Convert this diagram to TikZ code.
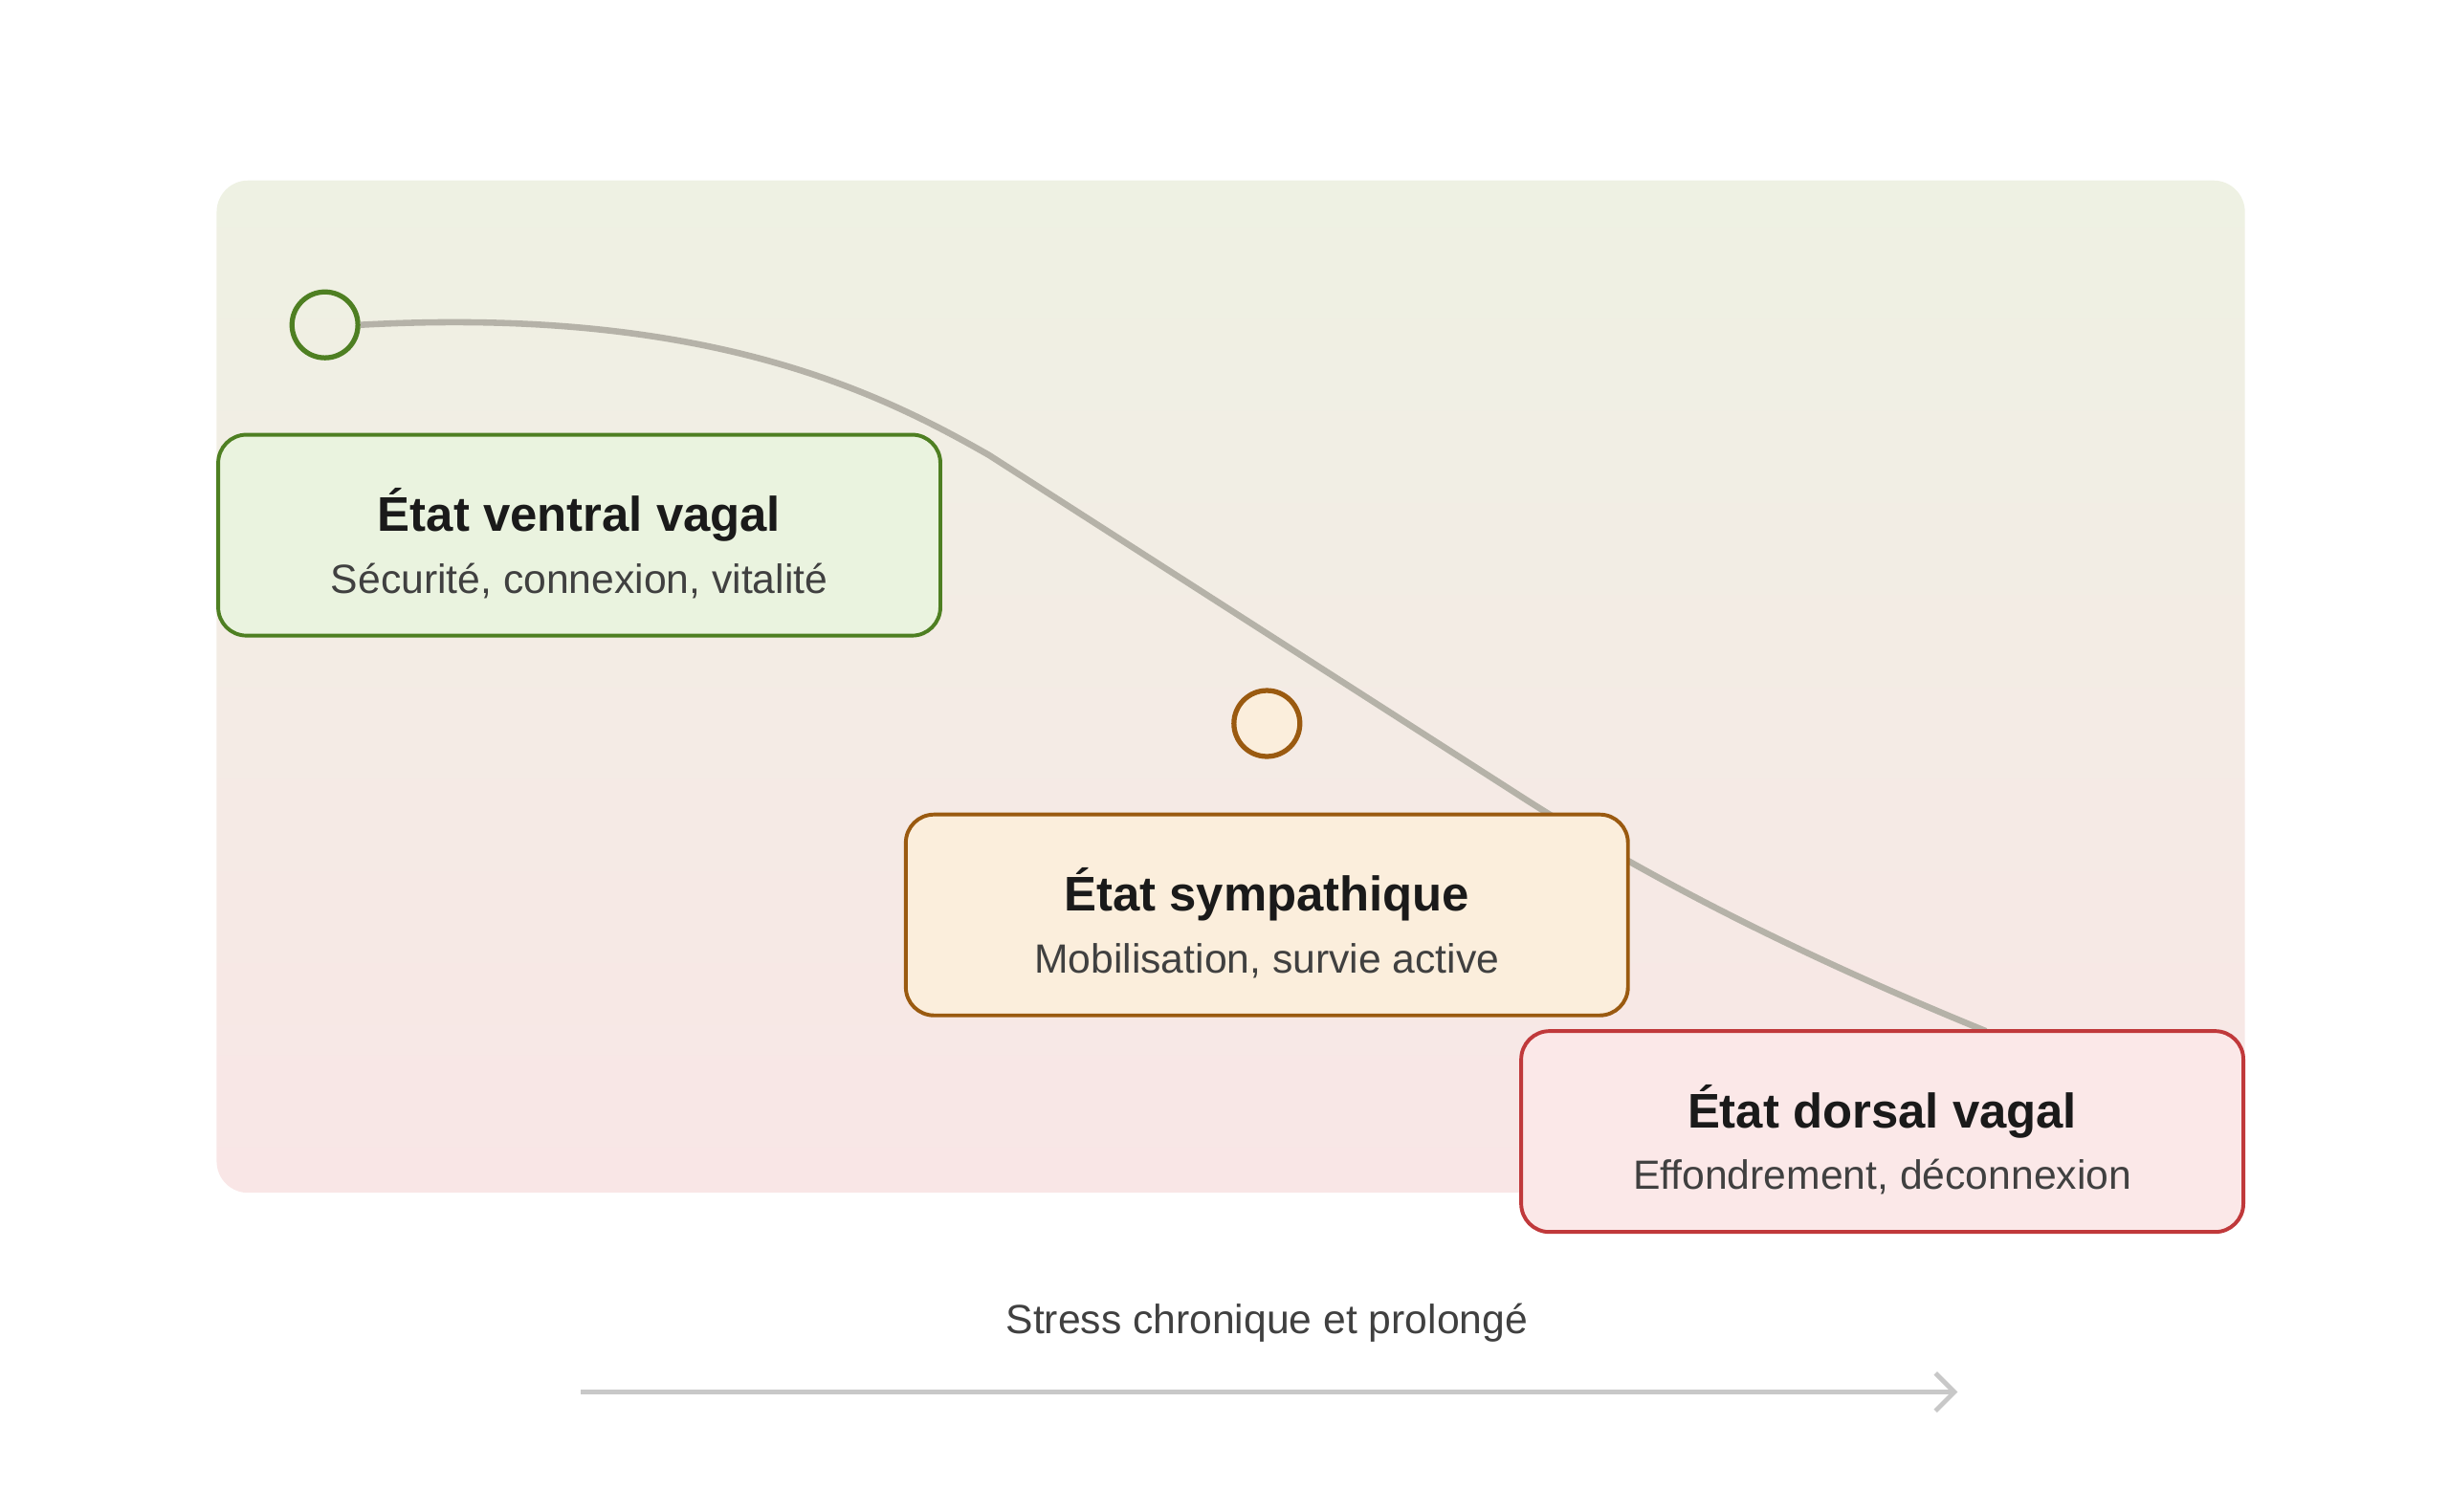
\documentclass[tikz,border=0pt]{standalone}
\usepackage{fontspec}
\setmainfont{Liberation Sans}
\usetikzlibrary{arrows.meta}
\definecolor{bgtop}{HTML}{EEF1E3}
\definecolor{bgbot}{HTML}{F9E6E6}
\definecolor{vfill}{HTML}{EAF3DF}
\definecolor{vline}{HTML}{4E7F22}
\definecolor{sfill}{HTML}{FBEEDC}
\definecolor{sline}{HTML}{9A5A10}
\definecolor{dfill}{HTML}{FBE8E8}
\definecolor{dline}{HTML}{C0393B}
\definecolor{curve}{HTML}{B5B2A8}
\definecolor{txt}{HTML}{1A1A1A}
\definecolor{sub}{HTML}{404040}
\tikzset{
  statebox/.style={draw, line width=1.2pt, rounded corners=9pt, minimum width=230pt, minimum height=64pt, inner sep=0pt},
  ring/.style={circle, line width=1.6pt, minimum size=21pt, inner sep=0pt},
  ttl/.style={font=\fontsize{15.5}{18}\selectfont\bfseries, text=txt},
  subt/.style={font=\fontsize{13}{16}\selectfont, text=sub},
}
\begin{document}
\begin{tikzpicture}[x=0.5pt,y=-0.5pt]
\useasboundingbox (0,0) rectangle (1560,963);
\shade[top color=bgtop, bottom color=bgbot, rounded corners=10pt] (138,115) rectangle (1430,760);
\node[ring, draw=vline] (c1) at (207,207) {};
\node[ring, draw=sline, fill=sfill] (c2) at (807,461) {};
\coordinate (cend) at (1265,657);
\draw[curve, line width=2pt] (c1.east) .. controls (450,195) and (560,250) .. (630,290) -- (965,505) .. controls (1050,560) and (1150,610) .. (cend);
\node[statebox, draw=vline, fill=vfill] (v) at (369,341) {};
\node[ttl] at (369,328) {État ventral vagal};
\node[subt] at (369,370) {Sécurité, connexion, vitalité};
\node[statebox, draw=sline, fill=sfill] (s) at (807,583) {};
\node[ttl] at (807,570) {État sympathique};
\node[subt] at (807,612) {Mobilisation, survie active};
\node[statebox, draw=dline, fill=dfill] (d) at (1199,721) {};
\node[ttl] at (1199,708) {État dorsal vagal};
\node[subt] at (1199,750) {Effondrement, déconnexion};
\node[subt] (lab) at (807,843) {Stress chronique et prolongé};
\coordinate (a1) at (370,887);
\coordinate (a2) at (1247,887);
\draw[draw={rgb,255:red,200;green,200;blue,200}, line width=1.5pt, -{Straight Barb[length=6pt,width=12pt]}] (a1) -- (a2);
\end{tikzpicture}
\end{document}
